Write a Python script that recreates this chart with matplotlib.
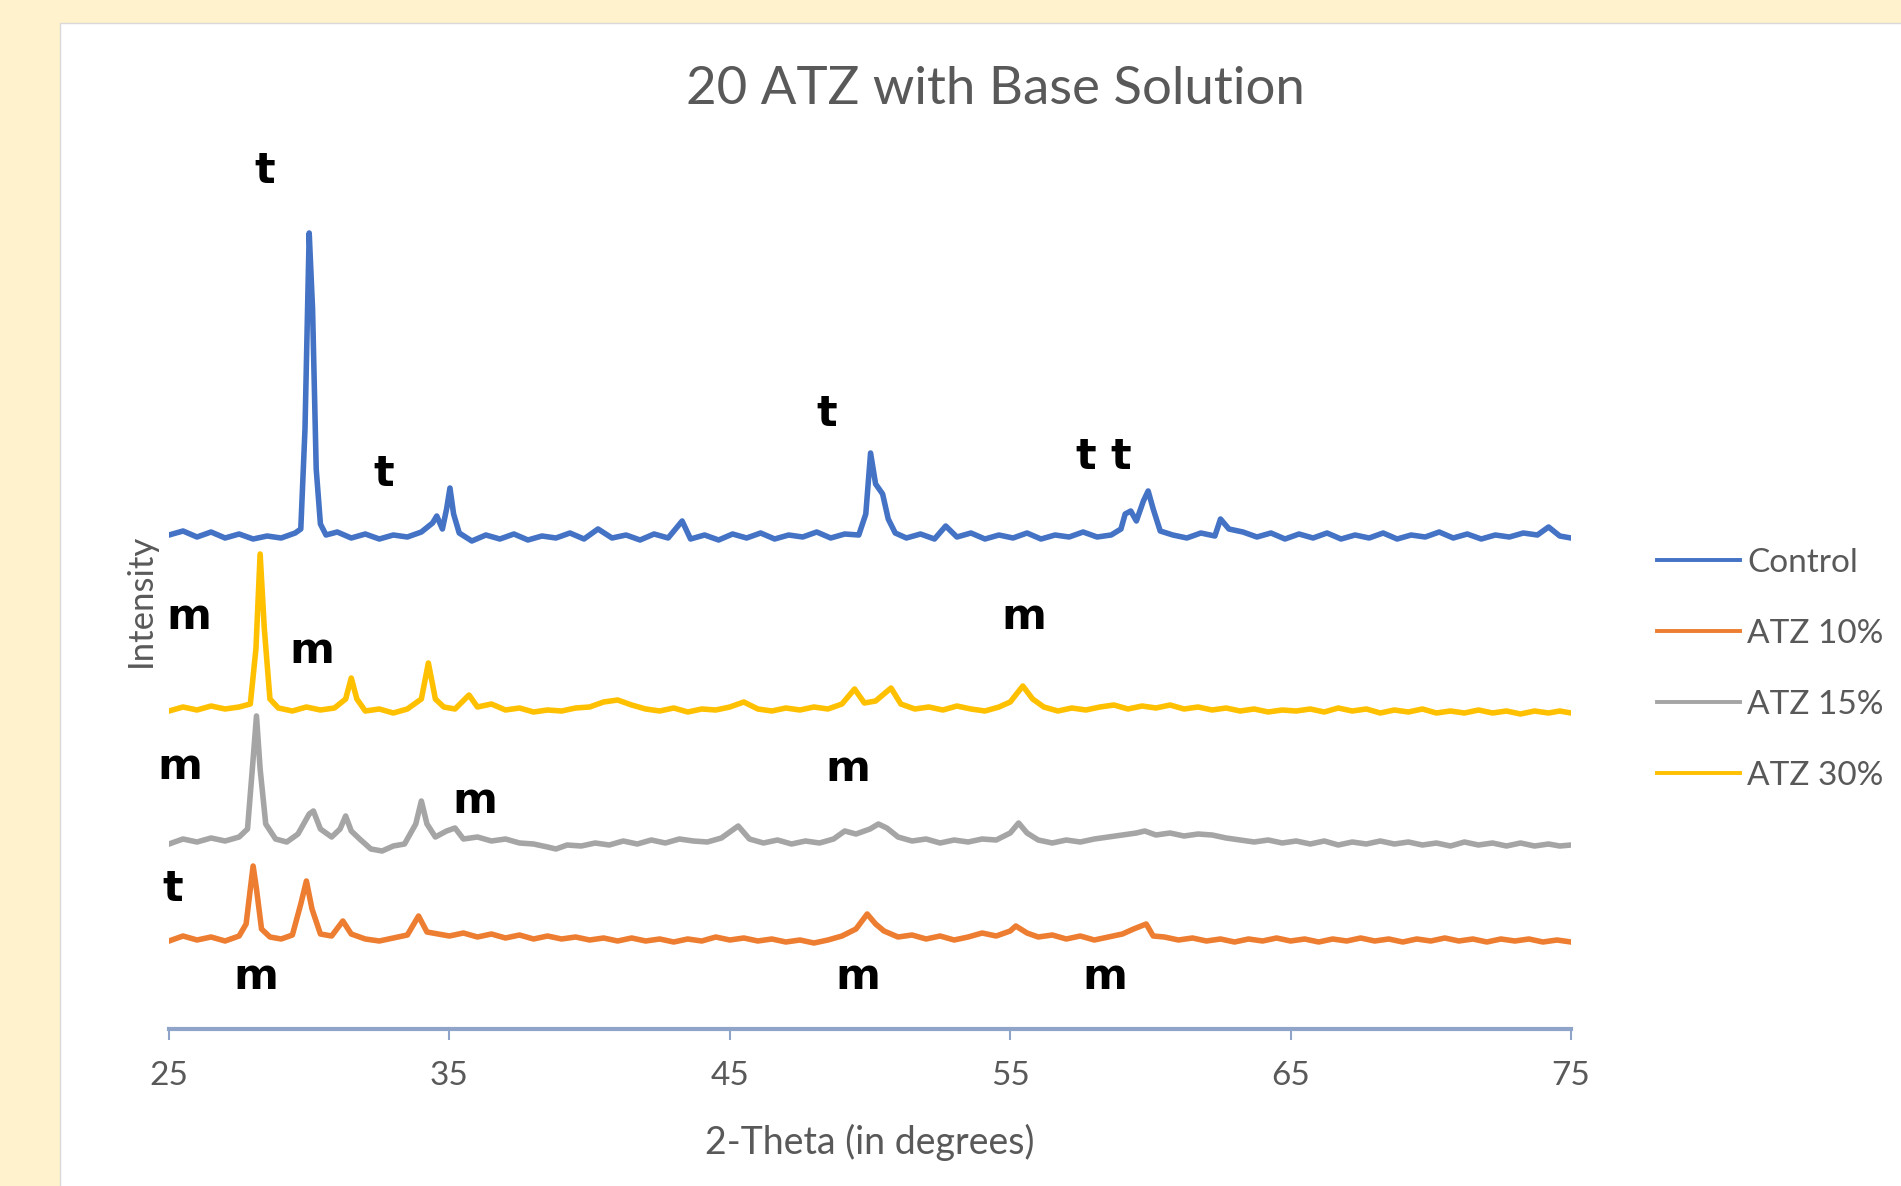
import matplotlib
matplotlib.use('Agg')
import matplotlib.pyplot as plt
from matplotlib.patches import Rectangle

# XRD patterns (2-theta in degrees, intensity in offset units)
ctrl_x = [25.0, 25.5, 26.0, 26.5, 27.0, 27.5, 28.0, 28.5, 29.0, 29.5,
          29.7, 29.85, 30.0, 30.12, 30.25, 30.4, 30.6,
          31.0, 31.5, 32.0, 32.5, 33.0, 33.5, 34.0, 34.4, 34.55, 34.75, 34.9, 35.02, 35.15, 35.35,
          35.8, 36.3, 36.8, 37.3, 37.8, 38.3, 38.8, 39.3, 39.8, 40.3, 40.8, 41.3, 41.8, 42.3, 42.8,
          43.3, 43.6, 44.1, 44.6, 45.1, 45.6, 46.1, 46.6, 47.1, 47.6, 48.1, 48.6, 49.1, 49.6,
          49.85, 50.02, 50.2, 50.45, 50.65, 50.9,
          51.3, 51.8, 52.3, 52.7, 53.1, 53.6, 54.1, 54.6, 55.1, 55.6, 56.1, 56.6, 57.1, 57.6,
          58.1, 58.6, 58.95, 59.1, 59.3, 59.5, 59.75, 59.92, 60.1, 60.35,
          60.8, 61.3, 61.8, 62.3, 62.5, 62.8, 63.3, 63.8, 64.3, 64.8, 65.3, 65.8, 66.3, 66.8,
          67.3, 67.8, 68.3, 68.8, 69.3, 69.8, 70.3, 70.8, 71.3, 71.8, 72.3, 72.8, 73.3, 73.8,
          74.2, 74.6, 75.0]
ctrl_y = [494, 498, 492, 497, 491, 495, 490, 493, 491, 496,
          500, 600, 796, 720, 560, 505, 494,
          497, 491, 495, 490, 494, 492, 497, 506, 513, 500, 520, 541, 515, 496,
          488, 494, 490, 495, 489, 493, 491, 496, 490, 500, 491, 494, 489, 495, 491,
          508, 490, 494, 489, 495, 491, 496, 490, 494, 492, 497, 491, 495, 494,
          515, 576, 545, 535, 510, 496,
          491, 495, 490, 503, 492, 496, 490, 494, 491, 496, 490, 494, 492, 497,
          492, 494, 500, 515, 518, 508, 528, 538, 520, 498,
          494, 491, 496, 493, 510, 500, 497, 492, 496, 490, 495, 491, 496, 490,
          494, 491, 496, 490, 494, 492, 497, 491, 495, 490, 494, 492, 496, 494,
          502, 493, 491]

atz10_x = [25.0, 25.5, 26.0, 26.5, 27.0, 27.5, 27.75, 27.9, 28.0, 28.12, 28.3, 28.6,
           29.0, 29.4, 29.7, 29.9, 30.1, 30.4, 30.8, 31.2, 31.5, 32.0, 32.5, 33.0, 33.5,
           33.9, 34.2, 34.6, 35.0, 35.5, 36.0, 36.5, 37.0, 37.5, 38.0, 38.5, 39.0, 39.5,
           40.0, 40.5, 41.0, 41.5, 42.0, 42.5, 43.0, 43.5, 44.0, 44.5, 45.0, 45.5, 46.0,
           46.5, 47.0, 47.5, 48.0, 48.5, 49.0, 49.5, 49.9, 50.2, 50.5, 51.0, 51.5, 52.0,
           52.5, 53.0, 53.5, 54.0, 54.5, 55.0, 55.2, 55.6, 56.0, 56.5, 57.0, 57.5, 58.0,
           58.5, 59.0, 59.4, 59.85, 60.1, 60.5, 61.0, 61.5, 62.0, 62.5, 63.0, 63.5, 64.0,
           64.5, 65.0, 65.5, 66.0, 66.5, 67.0, 67.5, 68.0, 68.5, 69.0, 69.5, 70.0, 70.5,
           71.0, 71.5, 72.0, 72.5, 73.0, 73.5, 74.0, 74.5, 75.0]
atz10_y = [88, 93, 89, 92, 88, 93, 105, 140, 163, 140, 100, 92,
           90, 94, 125, 148, 120, 95, 93, 108, 95, 90, 88, 91, 94,
           113, 97, 95, 93, 96, 92, 95, 91, 94, 90, 93, 90, 92,
           89, 91, 88, 91, 88, 90, 87, 90, 88, 92, 89, 91, 88,
           90, 87, 89, 86, 89, 93, 100, 115, 105, 98, 92, 94, 90,
           93, 89, 92, 96, 93, 98, 103, 96, 92, 94, 90, 93, 89,
           92, 95, 100, 105, 93, 92, 89, 91, 88, 90, 87, 90, 88,
           91, 88, 90, 87, 90, 88, 91, 88, 90, 87, 90, 88, 91,
           88, 90, 87, 90, 88, 90, 87, 89, 87]

atz15_x = [25.0, 25.5, 26.0, 26.5, 27.0, 27.5, 27.8, 28.0, 28.12, 28.25, 28.45, 28.8,
           29.2, 29.6, 30.0, 30.15, 30.4, 30.8, 31.1, 31.3, 31.5, 31.8, 32.2, 32.6, 33.0,
           33.4, 33.8, 34.0, 34.2, 34.5, 34.9, 35.2, 35.5, 36.0, 36.5, 37.0, 37.5, 38.0,
           38.5, 38.8, 39.2, 39.7, 40.2, 40.7, 41.2, 41.7, 42.2, 42.7, 43.2, 43.7, 44.2,
           44.7, 45.3, 45.7, 46.2, 46.7, 47.2, 47.7, 48.2, 48.7, 49.1, 49.5, 50.0, 50.3,
           50.6, 51.0, 51.5, 52.0, 52.5, 53.0, 53.5, 54.0, 54.5, 55.0, 55.3, 55.6, 56.0,
           56.5, 57.0, 57.5, 58.0, 58.5, 59.0, 59.5, 59.8, 60.2, 60.7, 61.2, 61.7, 62.2,
           62.7, 63.2, 63.7, 64.2, 64.7, 65.2, 65.7, 66.2, 66.7, 67.2, 67.7, 68.2, 68.7,
           69.2, 69.7, 70.2, 70.7, 71.2, 71.7, 72.2, 72.7, 73.2, 73.7, 74.2, 74.6, 75.0]
atz15_y = [185, 190, 187, 191, 188, 192, 200, 270, 313, 260, 205, 190,
           187, 195, 215, 218, 200, 192, 200, 213, 198, 190, 180, 178, 183,
           185, 205, 228, 205, 192, 198, 201, 190, 192, 188, 190, 186, 185,
           182, 180, 184, 183, 186, 184, 188, 185, 189, 186, 190, 188, 187,
           191, 203, 190, 186, 189, 185, 188, 186, 190, 198, 195, 200, 205,
           201, 192, 188, 190, 186, 189, 187, 190, 189, 196, 206, 196, 189,
           186, 189, 187, 190, 192, 194, 196, 198, 194, 196, 193, 195, 194,
           191, 189, 187, 189, 186, 188, 185, 188, 184, 187, 185, 188, 185,
           187, 184, 186, 183, 187, 184, 186, 183, 186, 183, 185, 183, 184]

atz30_x = [25.0, 25.5, 26.0, 26.5, 27.0, 27.5, 27.9, 28.1, 28.25, 28.4, 28.6, 28.9,
           29.4, 29.9, 30.4, 30.9, 31.3, 31.5, 31.7, 32.0, 32.5, 33.0, 33.5, 34.0, 34.25,
           34.5, 34.8, 35.2, 35.7, 36.0, 36.5, 37.0, 37.5, 38.0, 38.5, 39.0, 39.5, 40.0,
           40.5, 41.0, 41.5, 42.0, 42.5, 43.0, 43.5, 44.0, 44.5, 45.0, 45.5, 46.0, 46.5,
           47.0, 47.5, 48.0, 48.5, 49.0, 49.45, 49.8, 50.2, 50.75, 51.1, 51.6, 52.1, 52.6,
           53.1, 53.6, 54.1, 54.6, 55.0, 55.45, 55.8, 56.2, 56.7, 57.2, 57.7, 58.2, 58.7,
           59.2, 59.7, 60.2, 60.7, 61.2, 61.7, 62.2, 62.7, 63.2, 63.7, 64.2, 64.7, 65.2,
           65.7, 66.2, 66.7, 67.2, 67.7, 68.2, 68.7, 69.2, 69.7, 70.2, 70.7, 71.2, 71.7,
           72.2, 72.7, 73.2, 73.7, 74.2, 74.6, 75.0]
atz30_y = [318, 322, 319, 323, 320, 322, 325, 380, 475, 400, 330, 321,
           318, 322, 319, 321, 330, 351, 330, 318, 320, 316, 320, 330, 366,
           330, 322, 320, 334, 322, 325, 319, 321, 317, 319, 318, 321, 322,
           327, 329, 324, 320, 318, 321, 317, 320, 319, 322, 327, 320, 318,
           321, 319, 322, 320, 325, 340, 326, 328, 341, 325, 320, 322, 319,
           323, 320, 318, 322, 327, 343, 330, 322, 318, 321, 319, 322, 324,
           320, 323, 321, 324, 320, 322, 319, 321, 318, 320, 317, 319, 318,
           320, 317, 321, 318, 320, 316, 319, 317, 320, 316, 318, 316, 319,
           316, 318, 315, 318, 316, 318, 316]

series_names = ['Control', 'ATZ 10%', 'ATZ 15%', 'ATZ 30%']
series_colors = ['#4472C4', '#ED7D31', '#A5A5A5', '#FFC000']

# phase markers (t = tetragonal, m = monoclinic), text baseline position
phase_text = ['t', 't', 't', 't', 't',
              'm', 'm', 'm',
              'm', 'm', 'm',
              't', 'm', 'm', 'm']
phase_x = [28.41, 32.65, 48.47, 57.69, 58.95,
           25.71, 30.10, 55.50,
           25.38, 35.90, 49.20,
           25.14, 28.10, 49.58, 58.38]
phase_y = [846, 543, 603, 560, 560,
           400, 366, 400,
           250, 216, 248,
           128, 40, 40, 40]

W, H = 1901, 1186
fig = plt.figure(figsize=(W / 100, H / 100), dpi=100, facecolor='#fff2cc')
fig.patches.append(Rectangle((60 / W, -0.01), 1.0, (H - 23) / H + 0.01, transform=fig.transFigure,
                             facecolor='white', edgecolor='#d9d9d9', lw=1, zorder=-10))

ax = fig.add_axes([169 / W, (H - 1029) / H, 1402 / W, 909 / H])
ax.patch.set_alpha(0)

data = [(ctrl_x, ctrl_y), (atz10_x, atz10_y), (atz15_x, atz15_y), (atz30_x, atz30_y)]
for (x, y), name, c in zip(data, series_names, series_colors):
    ax.plot(x, y, color=c, lw=4, label=name, solid_joinstyle='round')

for s, x, y in zip(phase_text, phase_x, phase_y):
    ax.text(x, y, s, ha='center', va='baseline', fontsize=31, fontweight='bold',
            family='DejaVu Sans', color='black')

ax.set_xlim(25, 75)
ax.set_ylim(0, 909)
for sp in ['top', 'right', 'left']:
    ax.spines[sp].set_visible(False)
ax.spines['bottom'].set_color('#8ea4c8')
ax.spines['bottom'].set_linewidth(3)
ax.set_yticks([])
ax.set_xticks([25, 35, 45, 55, 65, 75])
ax.tick_params(axis='x', length=8, width=1.5, color='#8ea4c8', pad=15,
               labelsize=24, labelcolor='#595959')
for lab in ax.get_xticklabels():
    lab.set_family('Lato')

ax.set_xlabel('2-Theta (in degrees)', fontsize=27, color='#595959', family='Lato', labelpad=24)
fig.text(141 / W, (H - 600) / H, 'Intensity', rotation=90, ha='center', va='center',
         fontsize=25, color='#595959', family='Lato')
fig.text(995 / W, (H - 89) / H, '20 ATZ with Base Solution', ha='center', va='center',
         fontsize=38, color='#595959', family='Lato')

leg = ax.legend(loc='center left', bbox_to_anchor=(1657 / W, (H - 669.5) / H),
                bbox_transform=fig.transFigure, frameon=False, fontsize=24,
                handlelength=2.5, handletextpad=0.2, labelspacing=1.23,
                borderpad=0, borderaxespad=0)
for t in leg.get_texts():
    t.set_color('#595959')
    t.set_family('Lato')
for l in leg.get_lines():
    l.set_linewidth(2.8)

fig.savefig('out.png', dpi=100, facecolor=fig.get_facecolor())
